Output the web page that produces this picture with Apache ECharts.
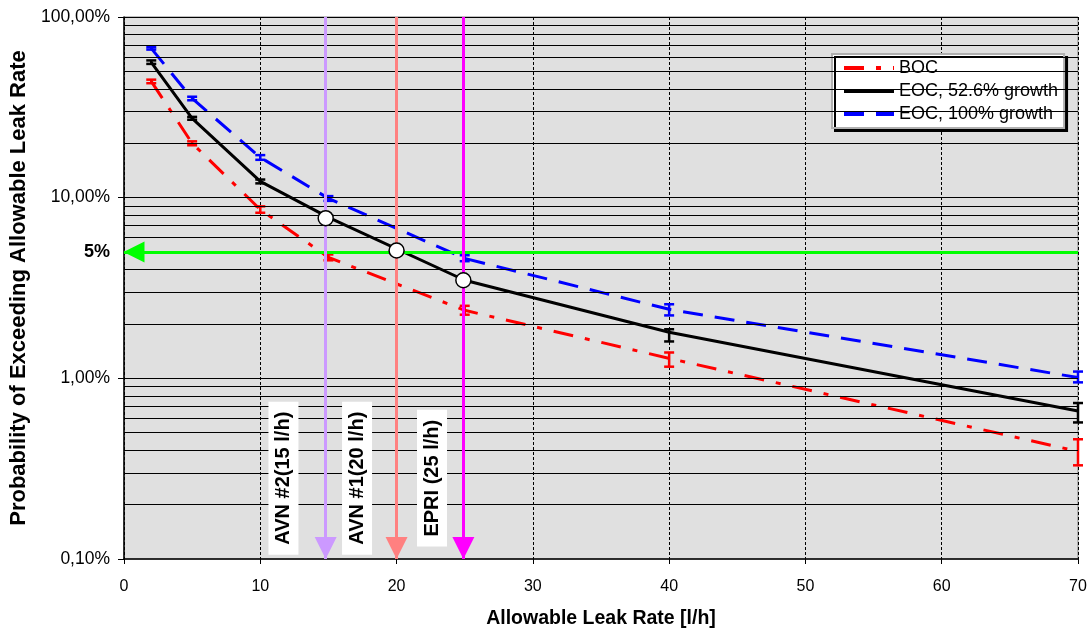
<!DOCTYPE html>
<html>
<head>
<meta charset="utf-8">
<title>Probability of Exceeding Allowable Leak Rate</title>
<script src="https://cdn.jsdelivr.net/npm/echarts@6/dist/echarts.min.js"></script>
<style>
    html, body { margin: 0; padding: 0; background: #fff; }
    #chart { width: 1090px; height: 630px; }
</style>
</head>
<body>
<div id="chart"></div>
<script>
// leak rate points [l/h]
var leakRates = [2, 5, 10, 15, 25, 40, 70];

// probability of exceeding [%]
var bocValues = [44, 20, 8.6, 4.67, 2.38, 1.29, 0.394];
var bocLow = [43, 19.5, 8.25, 4.5, 2.25, 1.16, 0.33];
var bocHigh = [45, 20.5, 8.95, 4.85, 2.52, 1.39, 0.46];

var eoc53Values = [56.1, 27.5, 12.3, 7.78, 3.49, 1.80, 0.66];
var eoc53Low = [55, 27, 12, 7.6, 3.4, 1.6, 0.57];
var eoc53High = [57.5, 28, 12.6, 7.95, 3.6, 1.87, 0.73];

var eoc100Values = [67, 35.4, 16.7, 9.91, 4.61, 2.41, 1.01];
var eoc100Low = [66, 34.6, 16.2, 9.6, 4.45, 2.23, 0.95];
var eoc100High = [68, 36.2, 17.2, 10.2, 4.8, 2.57, 1.09];

var seriesNames = ['BOC', 'EOC, 52.6% growth', 'EOC, 100% growth'];

// horizontal grid levels of the log axis [%]
var gridLevels = [0.2, 0.3, 0.4, 0.5, 0.6, 0.7, 0.8, 0.9,
    1, 2, 3, 4, 5, 6, 7, 8, 9,
    10, 20, 30, 40, 50, 60, 70, 80, 90, 100];

// 5% acceptance limit
var limitValue = 5;
var limitLabel = '5%';

// leak rate criteria (vertical arrows)
var criteriaRates = [14.8, 20, 24.9];
var criteriaNames = ['AVN #2(15 l/h)', 'AVN #1(20 l/h)', 'EPRI (25 l/h)'];
var criteriaLabelX = [11.7, 17.1, 22.6];
var criteriaLabelY = 0.28;

// intersections of criteria with EOC 52.6% curve
var crossX = [14.8, 20, 24.9];
var crossY = [7.7, 5.1, 3.49];

var FONT = '"Liberation Sans", Arial, sans-serif';

function pairs(xs, ys) {
    return xs.map(function (x, i) { return [x, ys[i]]; });
}

function bars(xs, lo, hi) {
    return xs.map(function (x, i) { return [x, lo[i], hi[i]]; });
}

function renderErrorBar(params, api) {
    var x = api.value(0);
    var lo = api.coord([x, api.value(1)]);
    var hi = api.coord([x, api.value(2)]);
    var half = 5;
    var style = { stroke: api.visual('color'), lineWidth: 2.5 };
    return {
        type: 'group',
        children: [
            { type: 'line', shape: { x1: lo[0], y1: lo[1], x2: hi[0], y2: hi[1] }, style: style },
            { type: 'line', shape: { x1: lo[0] - half, y1: lo[1], x2: lo[0] + half, y2: lo[1] }, style: style },
            { type: 'line', shape: { x1: hi[0] - half, y1: hi[1], x2: hi[0] + half, y2: hi[1] }, style: style }
        ]
    };
}

function errorSeries(name, color, data) {
    return {
        name: name,
        type: 'custom',
        renderItem: renderErrorBar,
        itemStyle: { color: color },
        encode: { x: 0, y: [1, 2] },
        data: data,
        z: 4,
        silent: true
    };
}

var criteriaColors = ['#cc99ff', '#ff8080', '#ff00ff'];

var myChart = echarts.init(document.getElementById('chart'), null, { renderer: 'canvas' });

var option = {
    animation: false,
    backgroundColor: '#fff',
    textStyle: { fontFamily: FONT },
    grid: {
        left: 124,
        right: 12,
        top: 17,
        bottom: 71,
        containLabel: false,
        outerBoundsMode: 'none',
        show: true,
        backgroundColor: '#e0e0e0',
        borderColor: '#808080',
        borderWidth: 1
    },
    legend: {
        data: seriesNames,
        orient: 'vertical',
        left: 832,
        top: 54,
        itemWidth: 50,
        itemHeight: 14,
        itemGap: 5,
        padding: [5, 6, 5, 10],
        backgroundColor: '#fff',
        borderColor: '#b0b0b0',
        borderWidth: 2,
        shadowColor: '#000',
        shadowOffsetX: 3,
        shadowOffsetY: 3,
        shadowBlur: 0,
        itemStyle: { color: 'rgba(0,0,0,0)', borderWidth: 0, opacity: 0 },
        lineStyle: { width: 4 },
        textStyle: { fontFamily: FONT, fontSize: 18, color: '#000' }
    },
    xAxis: {
        type: 'value',
        min: 0,
        max: 70,
        interval: 10,
        name: 'Allowable Leak Rate [l/h]',
        nameLocation: 'middle',
        nameGap: 50,
        nameTextStyle: { fontFamily: FONT, fontSize: 19.5, fontWeight: 'bold', color: '#000' },
        axisLine: { lineStyle: { color: '#000', width: 1.5 } },
        axisTick: { show: true, inside: false, length: 5, lineStyle: { color: '#000' } },
        axisLabel: { fontFamily: FONT, fontSize: 16, color: '#000', margin: 20 },
        splitLine: { show: true, lineStyle: { color: '#000', width: 1, type: [3, 2] } }
    },
    yAxis: {
        type: 'log',
        logBase: 10,
        min: 0.1,
        max: 100,
        name: 'Probability of Exceeding Allowable Leak Rate',
        nameLocation: 'middle',
        nameGap: 92,
        nameTextStyle: { fontFamily: FONT, fontSize: 22, fontWeight: 'bold', color: '#000' },
        axisLine: { show: true, lineStyle: { color: '#000', width: 1.5 } },
        axisTick: { show: true, inside: false, length: 6, lineStyle: { color: '#000' } },
        axisLabel: {
            fontFamily: FONT,
            fontSize: 17.5,
            color: '#000',
            margin: 14,
            formatter: function (v) {
                return v.toFixed(2).replace('.', ',') + '%';
            }
        },
        splitLine: { show: false }
    },
    series: [
        // horizontal grid lines at every log sub-division
        {
            name: 'grid',
            type: 'line',
            data: [],
            silent: true,
            z: 1,
            markLine: {
                silent: true,
                symbol: ['none', 'none'],
                label: { show: false },
                lineStyle: { color: '#000', width: 1, type: 'solid' },
                data: gridLevels.map(function (v) { return { yAxis: v }; })
            }
        },
        {
            name: seriesNames[0],
            type: 'line',
            data: pairs(leakRates, bocValues),
            showSymbol: false,
            symbol: 'none',
            color: '#ff0000',
            lineStyle: { color: '#ff0000', width: 3, type: [20, 12, 5, 12] },
            z: 3
        },
        {
            name: seriesNames[1],
            type: 'line',
            data: pairs(leakRates, eoc53Values),
            showSymbol: false,
            symbol: 'none',
            color: '#000000',
            lineStyle: { color: '#000', width: 3, type: 'solid' },
            z: 3
        },
        {
            name: seriesNames[2],
            type: 'line',
            data: pairs(leakRates, eoc100Values),
            showSymbol: false,
            symbol: 'none',
            color: '#0000ff',
            lineStyle: { color: '#0000ff', width: 3, type: [20, 12] },
            z: 3
        },
        errorSeries('BOC err', '#ff0000', bars(leakRates, bocLow, bocHigh)),
        errorSeries('EOC 52.6 err', '#000000', bars(leakRates, eoc53Low, eoc53High)),
        errorSeries('EOC 100 err', '#0000ff', bars(leakRates, eoc100Low, eoc100High)),
        // 5% limit with arrow
        {
            name: 'limit',
            type: 'line',
            data: [],
            silent: true,
            z: 5,
            markLine: {
                silent: true,
                symbol: ['triangle', 'none'],
                symbolSize: [21, 21],
                symbolOffset: [[0, 10], [0, 0]],
                lineStyle: { color: '#00ff00', width: 3, type: 'solid' },
                label: {
                    show: true,
                    position: 'start',
                    formatter: limitLabel,
                    fontFamily: FONT,
                    fontSize: 18,
                    fontWeight: 'bold',
                    color: '#000',
                    distance: 14
                },
                data: [[{ coord: [0, limitValue] }, { coord: [70, limitValue] }]]
            }
        },
        // criteria arrows
        {
            name: 'criteria',
            type: 'line',
            data: [],
            silent: true,
            z: 5,
            markLine: {
                silent: true,
                symbol: ['none', 'triangle'],
                symbolSize: [22, 22],
                symbolOffset: [[0, 0], [0, 11]],
                label: { show: false },
                lineStyle: { width: 3, type: 'solid' },
                data: criteriaRates.map(function (r, i) {
                    return [
                        { coord: [r, 100], lineStyle: { color: criteriaColors[i] } },
                        { coord: [r, 0.1] }
                    ];
                })
            }
        },
        // intersection circles
        {
            name: 'cross',
            type: 'scatter',
            data: pairs(crossX, crossY),
            symbol: 'circle',
            symbolSize: 15,
            itemStyle: { color: '#fff', borderColor: '#000', borderWidth: 1.5, opacity: 1 },
            silent: true,
            z: 6
        },
        // criteria labels
        {
            name: 'criteria labels',
            type: 'scatter',
            data: criteriaLabelX.map(function (x, i) {
                return { value: [x, criteriaLabelY], label: { formatter: criteriaNames[i] } };
            }),
            symbolSize: 1,
            itemStyle: { color: 'rgba(0,0,0,0)', opacity: 1 },
            silent: true,
            z: 7,
            label: {
                show: true,
                position: 'inside',
                rotate: 90,
                fontFamily: FONT,
                fontSize: 20,
                fontWeight: 'bold',
                color: '#000',
                opacity: 1,
                backgroundColor: '#fff',
                padding: [5, 10, 5, 10]
            }
        }
    ]
};

myChart.setOption(option);
</script>
</body>
</html>
